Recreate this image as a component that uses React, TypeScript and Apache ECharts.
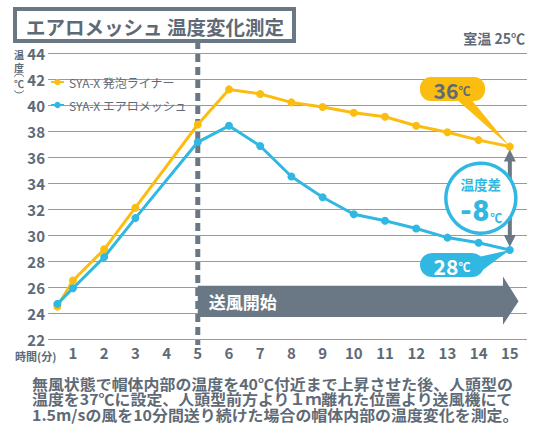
import React, { useEffect, useRef } from "react";
import * as echarts from "echarts";

const times = [0.5, 1, 2, 3, 5, 6, 7, 8, 9, 10, 11, 12, 13, 14, 15];
const linerTemps = [24.5, 26.5, 28.9, 32.1, 38.5, 41.2, 40.85, 40.2, 39.85, 39.4, 39.1, 38.4, 37.9, 37.3, 36.8];
const meshTemps = [24.7, 25.9, 28.3, 31.3, 37.15, 38.4, 36.85, 34.5, 32.9, 31.6, 31.1, 30.5, 29.8, 29.4, 28.85];
const xTickLabels = [1, 2, 3, 4, 5, 6, 7, 8, 9, 10, 11, 12, 13, 14, 15];
const seriesNames = ["SYA-X 発泡ライナー", "SYA-X エアロメッシュ"];
const yNameChars = ["温", "度", "℃"];
const noteLines = [
  "無風状態で帽体内部の温度を40℃付近まで上昇させた後、人頭型の",
  "温度を37℃に設定、人頭型前方より１ｍ離れた位置より送風機にて",
  "1.5m/sの風を10分間送り続けた場合の帽体内部の温度変化を測定。",
];

const YELLOW = "#fbbd10";
const BLUE = "#30b8e2";
const GRAY = "#6a7784";
const TEXT = "#5e6a76";
const FONT = "'Noto Sans CJK JP', 'Noto Sans', sans-serif";
const NUMFONT = "Roboto, 'Noto Sans', sans-serif";

export default function App() {
  const ref = useRef<HTMLDivElement>(null);
  useEffect(() => {
    const chart = echarts.init(ref.current!, undefined, { renderer: "svg" });
    chart.setOption({
      animation: false,
      textStyle: { fontFamily: FONT },
      grid: { left: 48, top: 53, width: 479, height: 286 },
      legend: {
        orient: "vertical",
        left: 45,
        top: 71,
        itemGap: 11,
        itemWidth: 13,
        itemHeight: 8,
        textStyle: { color: TEXT, fontSize: 12, fontFamily: FONT },
        data: seriesNames,
      },
      xAxis: {
        type: "value",
        min: 0.2,
        max: 15.55,
        axisLine: { show: false },
        axisTick: { show: false },
        splitLine: { show: false },
        axisLabel: {
          customValues: xTickLabels,
          color: TEXT,
          fontSize: 15,
          fontWeight: "bold",
          margin: 6,
          fontFamily: FONT,
        },
      },
      yAxis: {
        type: "value",
        min: 22,
        max: 44,
        interval: 2,
        axisLine: { show: false },
        axisTick: { show: false },
        splitLine: { show: true, lineStyle: { color: "#9a9a9a", width: 1 } },
        axisLabel: { color: TEXT, fontSize: 15, fontWeight: "bold", margin: 3, fontFamily: FONT },
      },
      series: [
        {
          name: seriesNames[0],
          type: "line",
          data: times.map((t, i) => [t, linerTemps[i]]),
          color: YELLOW,
          lineStyle: { width: 3 },
          symbol: "circle",
          symbolSize: 8,
          z: 3,
        },
        {
          name: seriesNames[1],
          type: "line",
          data: times.map((t, i) => [t, meshTemps[i]]),
          color: BLUE,
          lineStyle: { width: 3 },
          symbol: "circle",
          symbolSize: 8,
          z: 3,
        },
      ],
    });

    const p = (x: number, y: number) => chart.convertToPixel({ gridIndex: 0 }, [x, y]) as number[];
    const x5 = p(5, 22)[0];
    const topY = p(5, 44)[1];
    const botY = p(5, 22)[1];
    const end15 = p(15, 22)[0];
    const bandTop = p(0, 26.1)[1];
    const bandBot = p(0, 23.7)[1];
    const headTop = p(0, 26.8)[1];
    const headBot = p(0, 23.1)[1];
    const headMid = (bandTop + bandBot) / 2;
    const headStart = p(14.78, 22)[0];
    const tip = p(15.28, 22)[0];
    const yl = p(15, linerTemps[linerTemps.length - 1]);
    const ym = p(15, meshTemps[meshTemps.length - 1]);
    const cx = end15 - 29;
    const cy = (yl[1] + ym[1]) / 2;
    const yNameY = [54, 67.5, 83.5];

    chart.setOption({
      graphic: [
        // title box
        {
          type: "rect",
          shape: { x: 15, y: 9, width: 279, height: 32 },
          style: { fill: "#fff", stroke: GRAY, lineWidth: 4 },
          z: 10,
        },
        {
          type: "text",
          x: 155,
          y: 26,
          style: {
            text: "エアロメッシュ 温度変化測定",
            fill: TEXT,
            font: `bold 19.5px ${FONT}`,
            align: "center",
            verticalAlign: "middle",
          },
          z: 11,
        },
        {
          type: "text",
          x: 525,
          y: 38,
          style: { text: "室温 25℃", fill: TEXT, font: `bold 14px ${FONT}`, align: "right", verticalAlign: "middle" },
        },
        // y-axis name
        ...yNameChars.map((ch, i) => ({
          type: "text",
          x: 19,
          y: yNameY[i],
          style: {
            text: ch,
            fill: TEXT,
            font: `bold 10px ${FONT}`,
            lineHeight: 10,
            align: "center",
            verticalAlign: "middle",
          },
        })),
        {
          type: "arc",
          shape: { cx: 19, cy: 80, r: 6, startAngle: Math.PI * 1.2, endAngle: Math.PI * 1.8 },
          style: { stroke: TEXT, lineWidth: 1, fill: "none" },
        },
        {
          type: "arc",
          shape: { cx: 19, cy: 87, r: 6, startAngle: Math.PI * 0.2, endAngle: Math.PI * 0.8 },
          style: { stroke: TEXT, lineWidth: 1, fill: "none" },
        },
        {
          type: "text",
          x: 15,
          y: botY + 17,
          style: { text: "時間(分)", fill: TEXT, font: `bold 11px ${FONT}`, align: "left", verticalAlign: "middle" },
        },
        // dashed start line
        {
          type: "line",
          shape: { x1: x5, y1: topY - 12, x2: x5, y2: botY + 6 },
          style: { stroke: GRAY, lineWidth: 5, lineDash: [8, 5] },
          z: 2,
        },
        // wind arrow band
        {
          type: "polygon",
          shape: {
            points: [
              [x5, bandTop],
              [headStart, bandTop],
              [headStart, headTop],
              [tip, headMid],
              [headStart, headBot],
              [headStart, bandBot],
              [x5, bandBot],
            ],
          },
          style: { fill: GRAY },
          z: 4,
        },
        {
          type: "text",
          x: x5 + 11,
          y: headMid,
          style: { text: "送風開始", fill: "#fff", font: `bold 17px ${FONT}`, align: "left", verticalAlign: "middle" },
          z: 5,
        },
        // double arrow
        {
          type: "line",
          shape: { x1: yl[0], y1: yl[1] + 10, x2: ym[0], y2: ym[1] - 10 },
          style: { stroke: GRAY, lineWidth: 4 },
          z: 5,
        },
        {
          type: "polygon",
          shape: { points: [[yl[0], yl[1] + 3], [yl[0] - 6, yl[1] + 15], [yl[0] + 6, yl[1] + 15]] },
          style: { fill: GRAY },
          z: 5,
        },
        {
          type: "polygon",
          shape: { points: [[ym[0], ym[1] - 3], [ym[0] - 6, ym[1] - 15], [ym[0] + 6, ym[1] - 15]] },
          style: { fill: GRAY },
          z: 5,
        },
        // difference circle
        {
          type: "circle",
          shape: { cx, cy, r: 35 },
          style: { fill: "#fff", stroke: BLUE, lineWidth: 3.5 },
          z: 6,
        },
        {
          type: "text",
          x: cx,
          y: cy - 7,
          style: { text: "温度差", fill: BLUE, font: `bold 13.5px ${FONT}`, lineHeight: 14, align: "center", verticalAlign: "bottom" },
          z: 7,
        },
        {
          type: "text",
          x: cx,
          y: cy - 5,
          style: {
            text: "{a|-8}{b|℃}",
            align: "center",
            verticalAlign: "top",
            rich: {
              a: { fill: BLUE, font: `900 29px ${NUMFONT}`, lineHeight: 32, verticalAlign: "bottom" },
              b: { fill: BLUE, font: `bold 12px ${FONT}`, lineHeight: 32, verticalAlign: "bottom", padding: [0, 0, 2, 1] },
            },
          },
          z: 7,
        },
        // 36 callout
        {
          type: "polygon",
          shape: { points: [[455, 98], [470, 98], [yl[0], yl[1]]] },
          style: { fill: YELLOW },
          z: 6,
        },
        {
          type: "rect",
          shape: { x: 420, y: 77, width: 65, height: 24, r: 11 },
          style: { fill: YELLOW },
          z: 6,
        },
        {
          type: "text",
          x: 452,
          y: 90,
          style: {
            text: "{a|36}{b|℃}",
            align: "center",
            verticalAlign: "middle",
            rich: {
              a: { fill: TEXT, font: `bold 21px ${FONT}` },
              b: { fill: TEXT, font: `bold 12px ${FONT}` },
            },
          },
          z: 7,
        },
        // 28 callout
        {
          type: "polygon",
          shape: { points: [[474, 258], [480, 272], [ym[0], ym[1]]] },
          style: { fill: BLUE },
          z: 6,
        },
        {
          type: "rect",
          shape: { x: 420, y: 253, width: 64, height: 24, r: 12 },
          style: { fill: BLUE },
          z: 6,
        },
        {
          type: "text",
          x: 452,
          y: 266,
          style: {
            text: "{a|28}{b|℃}",
            align: "center",
            verticalAlign: "middle",
            rich: {
              a: { fill: "#fff", font: `bold 21px ${FONT}` },
              b: { fill: "#fff", font: `bold 12px ${FONT}` },
            },
          },
          z: 7,
        },
        // note text
        ...noteLines.map((line, i) => ({
          type: "text",
          x: 32,
          y: 383 + i * 15.5,
          scaleX: 1.063,
          style: { text: line, fill: TEXT, font: `bold 15px ${FONT}`, align: "left", verticalAlign: "middle" },
        })),
      ],
    });

    return () => chart.dispose();
  }, []);
  return <div ref={ref} style={{ position: "fixed", left: 0, top: 0, width: 540, height: 431, background: "#fff" }} />;
}
